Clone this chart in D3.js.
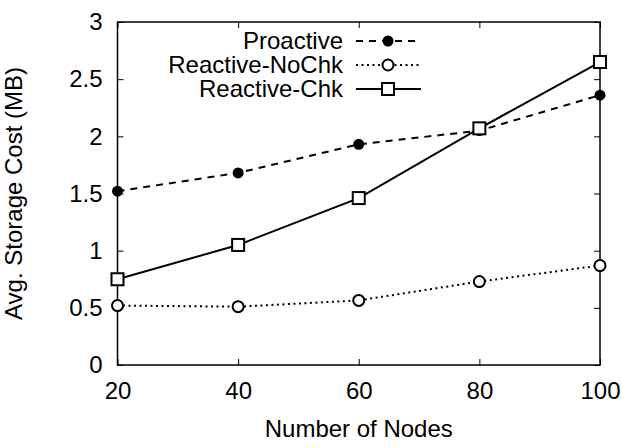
<!DOCTYPE html>
<html>
<head>
<style>
  body { margin: 0; background: #fff; }
  text { font-family: "Liberation Sans", Arial, sans-serif; fill: #000; }
  .axis text { font-size: 24px; }
</style>
</head>
<body>
<div id="chart"></div>
<script src="https://cdnjs.cloudflare.com/ajax/libs/d3/7.8.5/d3.min.js"></script>
<script>
// data
var nodes = [20, 40, 60, 80, 100];
var proactive = [1.52, 1.68, 1.93, 2.05, 2.36];
var reactiveNoChk = [0.52, 0.51, 0.565, 0.73, 0.87];
var reactiveChk = [0.75, 1.05, 1.46, 2.07, 2.65];
var yTicks = [0, 0.5, 1, 1.5, 2, 2.5, 3];
var seriesNames = ["Proactive", "Reactive-NoChk", "Reactive-Chk"];

var W = 622, H = 448;
var margin = { top: 22, right: 22, bottom: 83, left: 117.5 };
var width = W - margin.left - margin.right,
    height = H - margin.top - margin.bottom;

var svg = d3.select("#chart").append("svg")
  .attr("width", W).attr("height", H);
var g = svg.append("g")
  .attr("transform", "translate(" + margin.left + "," + margin.top + ")");

var x = d3.scaleLinear().domain([20, 100]).range([0, width]);
var y = d3.scaleLinear().domain([0, 3]).range([height, 0]);

// axes, gnuplot style: inward ticks mirrored on the opposite side
g.append("g").attr("class", "axis")
  .attr("transform", "translate(0," + height + ")")
  .call(d3.axisBottom(x).tickValues(nodes).tickSize(-6).tickPadding(17))
  .call(function(a) { a.select(".domain").remove(); });
g.append("g").attr("class", "axis")
  .call(d3.axisLeft(y).tickValues(yTicks).tickSize(-6).tickPadding(15).tickFormat(d3.format("")))
  .call(function(a) { a.select(".domain").remove(); });
g.append("g")
  .call(d3.axisTop(x).tickValues(nodes).tickSize(-6).tickFormat(""))
  .call(function(a) { a.select(".domain").remove(); });
g.append("g")
  .attr("transform", "translate(" + width + ",0)")
  .call(d3.axisRight(y).tickValues(yTicks).tickSize(-6).tickFormat(""))
  .call(function(a) { a.select(".domain").remove(); });
g.selectAll(".tick line").attr("stroke", "#000").attr("stroke-width", 1);

g.append("rect")
  .attr("width", width).attr("height", height)
  .attr("fill", "none").attr("stroke", "#000").attr("stroke-width", 1.5);

// axis titles
svg.append("text")
  .attr("x", margin.left + width / 2).attr("y", 437)
  .attr("text-anchor", "middle").style("font-size", "24px")
  .text("Number of Nodes");
svg.append("text")
  .attr("transform", "translate(22," + (margin.top + height / 2) + ") rotate(-90)")
  .attr("text-anchor", "middle").style("font-size", "24px")
  .text("Avg. Storage Cost (MB)");

var line = d3.line()
  .x(function(d, i) { return x(nodes[i]); })
  .y(function(d) { return y(d); });

var styles = [
  { data: proactive, dash: "7,6", marker: "dot" },
  { data: reactiveNoChk, dash: "2,3.5", marker: "circle" },
  { data: reactiveChk, dash: null, marker: "square" }
];

function drawMarker(sel, type, cx, cy) {
  if (type == "dot") {
    sel.append("circle").attr("cx", cx).attr("cy", cy).attr("r", 5.5).attr("fill", "#000");
  } else if (type == "circle") {
    sel.append("circle").attr("cx", cx).attr("cy", cy).attr("r", 5.5)
      .attr("fill", "#fff").attr("stroke", "#000").attr("stroke-width", 2);
  } else {
    sel.append("rect").attr("x", cx - 6).attr("y", cy - 6).attr("width", 12).attr("height", 12)
      .attr("fill", "#fff").attr("stroke", "#000").attr("stroke-width", 2);
  }
}

styles.forEach(function(s) {
  g.append("path")
    .attr("d", line(s.data))
    .attr("fill", "none").attr("stroke", "#000").attr("stroke-width", 2)
    .attr("stroke-dasharray", s.dash);
  s.data.forEach(function(v, i) {
    drawMarker(g, s.marker, x(nodes[i]), y(v));
  });
});

// legend
var legend = svg.append("g");
var legY = [41, 65, 89];
styles.forEach(function(s, i) {
  legend.append("text")
    .attr("x", 343).attr("y", legY[i]).attr("dy", "0.35em")
    .attr("text-anchor", "end").style("font-size", "24px")
    .text(seriesNames[i]);
  legend.append("line")
    .attr("x1", 356).attr("x2", 421).attr("y1", legY[i]).attr("y2", legY[i])
    .attr("stroke", "#000").attr("stroke-width", 2)
    .attr("stroke-dasharray", s.dash);
  drawMarker(legend, s.marker, 388, legY[i]);
});
</script>
</body>
</html>
